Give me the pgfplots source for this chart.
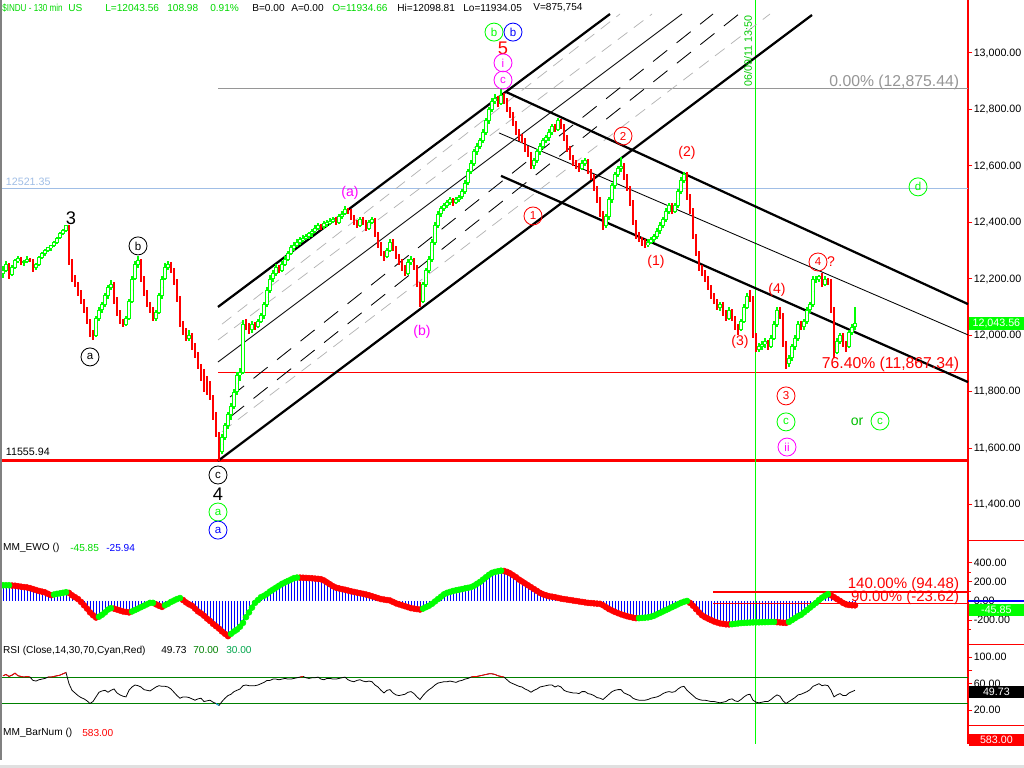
\documentclass[border=0pt]{standalone}
\usepackage{graphicx}
\usepackage{pgfplots}
\pgfplotsset{compat=1.18}
\usepackage{pgfplotstable}
\usepackage{fontspec}
\setmainfont{Liberation Sans}

\definecolor{lime}{RGB}{0,255,0}
\definecolor{mag}{RGB}{255,0,255}
\definecolor{dgreen}{RGB}{0,128,0}
\definecolor{lblue}{RGB}{160,190,230}
\definecolor{lgray}{RGB}{150,150,150}

\newcommand\tk{\fontsize{7.6}{8.5}\selectfont}
\newcommand\hd{\fontsize{7.2}{8}\selectfont}
\newcommand\lb{\fontsize{10}{11}\selectfont}
\newcommand\lv{\fontsize{11.2}{12}\selectfont}
\newcommand\lw{\fontsize{10.7}{11.5}\selectfont}
\newcommand\bg{\fontsize{13}{13}\selectfont}

% x = bar position in screen columns (3 per bar), o h l c = prices, e = EWO, r = RSI
\pgfplotstableread{
x o h l c e r
3 12220 12245 12205 12230 165 72
6 12230 12262 12225 12250 165 74
9 12250 12255 12200 12215 165 71
12 12215 12248 12210 12240 162 73
15 12240 12270 12235 12265 160 76
18 12265 12282 12258 12272 155 72
21 12272 12278 12250 12258 150 71
24 12258 12268 12245 12262 146 70
27 12262 12280 12255 12270 142 71
30 12270 12276 12260 12268 135 70
33 12268 12272 12225 12240 125 65
36 12240 12258 12232 12250 115 64
39 12250 12280 12246 12275 105 66
42 12275 12295 12270 12290 98 67
45 12290 12306 12282 12300 90 68
48 12300 12315 12294 12310 75 70
51 12310 12322 12300 12318 62 70
54 12318 12335 12312 12330 68 71
57 12330 12350 12325 12345 75 72
60 12345 12365 12340 12360 80 73
63 12360 12378 12355 12372 86 75
66 12372 12391 12366 12388 92 77
69 12388 12392 12250 12260 85 60
72 12260 12270 12190 12200 60 50
75 12200 12215 12170 12180 40 46
78 12180 12190 12140 12150 20 42
81 12150 12160 12110 12120 -10 39
84 12120 12130 12080 12090 -45 37
87 12090 12100 12040 12050 -80 34
90 12050 12060 11995 12010 -120 30
93 12010 12020 11985 12000 -150 33
96 12000 12070 11995 12060 -174 40
99 12060 12100 12050 12090 -165 47
102 12090 12118 12080 12110 -145 49
105 12110 12150 12100 12140 -120 50
108 12140 12180 12130 12170 -90 47
111 12170 12195 12160 12180 -75 50
114 12180 12190 12110 12120 -80 52
117 12120 12135 12070 12080 -90 46
120 12080 12090 12040 12050 -100 43
123 12050 12060 12030 12040 -110 41
126 12040 12070 12035 12060 -115 40
129 12060 12130 12055 12120 -120 50
132 12120 12210 12115 12200 -110 55
135 12200 12262 12195 12250 -95 58
138 12250 12283 12240 12265 -80 57
141 12265 12270 12190 12200 -65 55
144 12200 12210 12140 12150 -50 51
147 12150 12160 12100 12110 -35 50
150 12110 12120 12080 12090 -20 49
153 12090 12100 12050 12060 -20 52
156 12060 12090 12050 12080 -35 55
159 12080 12150 12075 12140 -50 57
162 12140 12210 12130 12200 -62 56
165 12200 12255 12195 12240 -45 56
168 12240 12262 12230 12250 -30 55
171 12250 12260 12220 12230 -10 52
174 12230 12240 12180 12190 5 47
177 12190 12200 12120 12130 20 42
180 12130 12140 12030 12040 31 38
183 12040 12050 12000 12010 10 40
186 12010 12025 11980 11990 -15 40
189 11990 12020 11980 12000 -35 39
192 12000 12010 11950 11960 -50 37
195 11960 11975 11920 11930 -80 35
198 11930 11940 11880 11890 -110 37
201 11890 11900 11840 11850 -130 38
204 11850 11880 11800 11840 -155 33
207 11840 11855 11790 11830 -185 34
210 11830 11840 11770 11780 -210 35
213 11780 11790 11700 11720 -240 32
216 11720 11730 11640 11650 -265 30
219 11650 11660 11556 11590 -290 27
222 11590 11650 11580 11640 -320 33
225 11640 11690 11630 11680 -345 38
228 11680 11730 11670 11720 -369 42
231 11720 11760 11700 11750 -345 44
234 11750 11810 11740 11800 -320 48
237 11800 11870 11790 11860 -300 50
240 11860 11885 11840 11870 -270 52
243 11870 12055 11865 12040 -230 57
246 12040 12060 12020 12030 -170 58
249 12030 12045 12005 12020 -120 57
252 12020 12050 12010 12040 -70 57
255 12040 12048 12020 12030 -20 57
258 12030 12060 12025 12050 10 58
261 12050 12080 12045 12070 40 60
264 12070 12120 12060 12110 55 62
267 12110 12170 12100 12160 75 65
270 12160 12215 12150 12200 100 65
273 12200 12232 12190 12220 120 67
276 12220 12252 12210 12240 140 67
279 12240 12248 12220 12230 160 66
282 12230 12262 12225 12250 180 67
285 12250 12282 12245 12270 195 68
288 12270 12300 12262 12290 210 67
291 12290 12320 12285 12310 225 67
294 12310 12330 12300 12320 240 68
297 12320 12340 12315 12330 246 69
300 12330 12350 12320 12340 245 70
303 12340 12356 12330 12345 244 71
306 12345 12360 12338 12350 242 69
309 12350 12368 12342 12360 240 68
312 12360 12378 12350 12370 238 69
315 12370 12390 12362 12380 235 69
318 12380 12398 12372 12390 232 70
321 12390 12396 12375 12385 228 67
324 12385 12405 12378 12395 215 66
327 12395 12410 12385 12400 195 68
330 12400 12415 12392 12405 175 68
333 12405 12420 12398 12410 155 67
336 12410 12418 12390 12400 140 67
339 12400 12430 12395 12420 132 68
342 12420 12440 12412 12430 125 69
345 12430 12460 12425 12445 118 70
348 12445 12452 12430 12440 110 66
351 12440 12446 12410 12420 102 64
354 12420 12428 12390 12400 95 63
357 12400 12408 12380 12390 88 65
360 12390 12420 12385 12410 82 66
363 12410 12418 12392 12400 75 64
366 12400 12408 12370 12380 68 63
369 12380 12410 12375 12400 60 64
372 12400 12420 12395 12410 50 63
375 12410 12415 12350 12360 40 58
378 12360 12368 12310 12320 30 55
381 12320 12330 12280 12290 20 50
384 12290 12300 12265 12280 15 46
387 12280 12310 12275 12300 10 50
390 12300 12340 12295 12330 5 51
393 12330 12340 12300 12310 -10 46
396 12310 12318 12270 12280 -25 43
399 12280 12290 12250 12260 -35 42
402 12260 12270 12230 12240 -45 43
405 12240 12250 12210 12220 -55 44
408 12220 12270 12215 12260 -65 47
411 12260 12280 12250 12270 -75 48
414 12270 12275 12230 12240 -80 45
417 12240 12250 12170 12180 -85 40
420 12180 12190 12100 12120 -90 36
423 12120 12190 12115 12180 -80 42
426 12180 12240 12170 12230 -65 47
429 12230 12280 12220 12270 -50 51
432 12270 12340 12260 12330 -30 54
435 12330 12400 12320 12390 -5 58
438 12390 12440 12380 12430 20 61
441 12430 12460 12420 12450 45 62
444 12450 12470 12440 12460 70 63
447 12460 12478 12450 12470 85 63
450 12470 12490 12462 12480 95 64
453 12480 12488 12460 12470 105 63
456 12470 12490 12465 12480 112 62
459 12480 12498 12472 12490 118 64
462 12490 12520 12484 12510 125 65
465 12510 12550 12502 12540 132 67
468 12540 12590 12532 12580 138 68
471 12580 12620 12570 12610 145 70
474 12610 12660 12600 12650 160 71
477 12650 12680 12640 12670 180 71
480 12670 12700 12660 12690 200 72
483 12690 12730 12680 12720 225 73
486 12720 12770 12710 12760 250 74
489 12760 12810 12750 12800 275 75
492 12800 12840 12790 12830 295 75
495 12830 12855 12820 12840 305 74
498 12840 12848 12810 12820 312 72
501 12820 12876 12815 12850 318 71
504 12850 12860 12820 12830 315 70
507 12830 12840 12790 12800 305 66
510 12800 12810 12770 12780 290 62
513 12780 12790 12740 12750 270 60
516 12750 12760 12710 12720 250 58
519 12720 12730 12690 12700 225 56
522 12700 12712 12680 12690 205 55
525 12690 12700 12650 12660 185 52
528 12660 12670 12630 12640 165 50
531 12640 12650 12590 12600 145 47
534 12600 12630 12590 12620 125 50
537 12620 12660 12610 12650 105 52
540 12650 12680 12640 12670 85 55
543 12670 12700 12660 12690 70 56
546 12690 12710 12680 12700 60 57
549 12700 12730 12690 12720 50 58
552 12720 12750 12710 12740 45 58
555 12740 12748 12720 12730 40 55
558 12730 12770 12725 12760 32 57
561 12760 12765 12730 12740 25 55
564 12740 12750 12690 12700 20 50
567 12700 12710 12650 12660 15 48
570 12660 12670 12620 12630 10 47
573 12630 12640 12600 12610 5 46
576 12610 12620 12590 12600 0 46
579 12600 12610 12580 12590 -5 45
582 12590 12620 12585 12610 -10 48
585 12610 12630 12600 12620 -15 48
588 12620 12625 12570 12580 -20 45
591 12580 12590 12550 12560 -22 44
594 12560 12570 12510 12520 -25 42
597 12520 12530 12470 12480 -28 39
600 12480 12490 12420 12430 -30 38
603 12430 12440 12375 12390 -45 36
606 12390 12430 12380 12420 -65 40
609 12420 12490 12410 12480 -85 44
612 12480 12540 12470 12530 -100 48
615 12530 12580 12520 12570 -115 50
618 12570 12600 12560 12590 -128 51
621 12590 12630 12580 12600 -140 51
624 12600 12610 12550 12560 -150 46
627 12560 12570 12510 12520 -160 44
630 12520 12530 12460 12470 -168 42
633 12470 12480 12390 12400 -175 38
636 12400 12410 12340 12350 -180 36
639 12350 12365 12330 12340 -180 35
642 12340 12350 12315 12330 -178 35
645 12330 12340 12310 12320 -175 35
648 12320 12340 12312 12330 -172 36
651 12330 12350 12322 12340 -165 38
654 12340 12358 12330 12350 -155 39
657 12350 12380 12342 12370 -140 40
660 12370 12400 12360 12390 -125 42
663 12390 12420 12380 12410 -110 45
666 12410 12450 12400 12440 -95 47
669 12440 12470 12430 12460 -80 48
672 12460 12468 12430 12440 -65 47
675 12440 12470 12432 12460 -50 48
678 12460 12520 12450 12510 -35 52
681 12510 12560 12500 12550 -20 55
684 12550 12580 12540 12570 -8 56
687 12570 12578 12480 12490 0 50
690 12490 12500 12430 12440 -20 46
693 12440 12450 12340 12350 -50 42
696 12350 12360 12280 12290 -85 38
699 12290 12300 12230 12240 -120 36
702 12240 12250 12210 12220 -150 35
705 12220 12230 12190 12200 -170 35
708 12200 12210 12160 12170 -185 34
711 12170 12180 12130 12140 -200 33
714 12140 12150 12110 12120 -215 33
717 12120 12130 12090 12100 -225 32
720 12100 12120 12085 12110 -235 31
723 12110 12120 12070 12080 -240 32
726 12080 12090 12050 12060 -245 33
729 12060 12100 12055 12090 -246 36
732 12090 12095 12050 12060 -244 37
735 12060 12070 12020 12030 -240 34
738 12030 12040 12000 12020 -236 33
741 12020 12060 12015 12050 -232 36
744 12050 12110 12045 12100 -230 40
747 12100 12150 12095 12140 -228 43
750 12140 12160 12120 12130 -226 44
753 12130 12140 11990 12000 -225 35
756 12000 12010 11940 11950 -224 32
759 11950 11975 11940 11960 -224 31
762 11960 11980 11950 11970 -223 32
765 11970 11990 11955 11980 -222 33
768 11980 11985 11950 11960 -221 33
771 11960 12000 11955 11990 -220 36
774 11990 12050 11985 12040 -220 40
777 12040 12100 12030 12090 -222 43
780 12090 12100 12060 12070 -225 41
783 12070 12080 11960 11970 -228 34
786 11970 11980 11880 11900 -230 30
789 11900 11930 11890 11920 -220 33
792 11920 11970 11910 11960 -200 36
795 11960 12000 11950 11990 -180 39
798 11990 12050 11980 12040 -160 43
801 12040 12050 12020 12030 -145 44
804 12030 12060 12020 12050 -120 46
807 12050 12100 12040 12090 -95 48
810 12090 12120 12080 12110 -70 51
813 12110 12210 12100 12200 -45 56
816 12200 12210 12185 12200 -20 58
819 12200 12215 12190 12210 10 60
822 12210 12220 12170 12180 35 57
825 12180 12210 12175 12200 55 58
828 12200 12205 12180 12190 72 57
831 12190 12200 12080 12090 60 50
834 12090 12100 11920 11940 40 40
837 11940 11990 11935 11980 20 43
840 11980 12010 11970 12000 0 45
843 12000 12010 11960 11970 -20 42
846 11970 11980 11940 11960 -35 42
849 11960 12020 11955 12010 -42 46
852 12010 12040 12000 12030 -45 48
855 12030 12099 12020 12044 -46 50
}\bars

% d = change of the EWO from the bar before (sets the dot colour)
\pgfplotstablecreatecol[
  create col/assign/.code={%
    \ifnum\pgfplotstablerow=0
      \def\entry{0}%
    \else
      \getthisrow{e}\cur
      \getprevrow{e}\prv
      \pgfmathsetmacro\entry{(\cur)-(\prv)}%
    \fi
    \pgfkeyslet{/pgfplots/table/create col/next content}\entry}]{d}\bars

\pgfplotsset{
  panel/.style={scale only axis, width=242mm, xmin=0, xmax=968,
    axis x line=none, axis y line*=right, clip=false,
    y axis line style={red, line width=0.8pt, -},
    ytick style={red, line width=0.7pt}, tick align=outside,
    major tick length=1.1mm, minor tick length=0.7mm,
    minor tick style={red, line width=0.7pt},
    scaled y ticks=false,
    yticklabel style={font=\tk, black, xshift=-0.9mm,
      /pgf/number format/.cd, fixed, fixed zerofill, precision=2,
      1000 sep={,}, assume math mode=true}},
  ebar/.style={only marks, mark=*, mark size=0pt, mark options={draw=none, fill=none}, forget plot,
    error bars/y dir=both, error bars/y explicit, error bars/error mark=none,
    error bars/error bar style={#1}},
  up/.style={restrict expr to domain={\thisrow{c}-\thisrow{o}}{0:100000}},
  dn/.style={restrict expr to domain={\thisrow{c}-\thisrow{o}}{-100000:-0.001}},
  chan/.style={black, line width=1.6pt, forget plot},
  thin/.style={black, line width=0.6pt, forget plot},
  bdash/.style={black, line width=0.6pt, dash pattern=on 4.5mm off 3mm, forget plot},
  gdash/.style={black!30, line width=0.5pt, dash pattern=on 3mm off 2mm, forget plot},
}
\tikzset{
  circ/.style={circle, draw=#1, text=#1, line width=0.6pt, minimum size=4.5mm,
    inner sep=0pt, font=\fontsize{8.2}{9}\selectfont},
  hdr/.style={font=\hd, anchor=west, inner sep=0pt},
}

\begin{document}
\begin{tikzpicture}
\useasboundingbox[fill=white] (0,0) rectangle (256mm,192mm);

% ---------------- price panel ----------------
\begin{axis}[panel, at={(0mm,57.5mm)}, anchor=south west, height=134.5mm,
  ymin=11283, ymax=13187.6, ytick={11400,11600,...,13000}]

% horizontal levels
\addplot[lblue, line width=0.7pt, forget plot] coordinates {(0,12521.35) (968,12521.35)};
\addplot[lgray, line width=0.7pt, forget plot] coordinates {(218,12875.44) (968,12875.44)};
\addplot[red, line width=0.7pt, forget plot] coordinates {(218,11867.34) (968,11867.34)};
\addplot[red, line width=2.2pt, forget plot] coordinates {(0,11555.94) (968,11555.94)};
\addplot[lime, line width=0.7pt, forget plot] coordinates {(755,11283) (755,13187.6)};

% rising channel and its inner lines
\addplot[gdash] coordinates {(218,11984) (652,13138)};
\addplot[thin]  coordinates {(218,11906) (682,13138)};
\addplot[bdash] coordinates {(230,11782) (713,13138)};
\addplot[bdash] coordinates {(230,11711) (739,13138)};
\addplot[gdash] coordinates {(222,11659) (770,13138)};
\addplot[gdash] coordinates {(222,12040) (620,13138)};
\addplot[chan] coordinates {(218,12101) (610,13138)};
\addplot[chan] coordinates {(218,11556) (812,13134.5)};
% falling channel
\addplot[chan] coordinates {(506,12862) (968,12111)};
\addplot[thin] coordinates {(499,12717) (968,12002)};
\addplot[chan] coordinates {(501,12565) (968,11835)};

% candles
\addplot[ebar={red, line width=0.75pt}, dn] table[x=x, y expr={(\thisrow{h}+\thisrow{l})/2}, y error expr={(\thisrow{h}-\thisrow{l})/2}]{\bars};
\addplot[ebar={lime, line width=0.75pt}, up] table[x=x, y expr={(\thisrow{h}+\thisrow{l})/2}, y error expr={(\thisrow{h}-\thisrow{l})/2}]{\bars};
\addplot[ebar={red, line width=2pt}, dn] table[x=x, y expr={(\thisrow{o}+\thisrow{c})/2}, y error expr={(\thisrow{o}-\thisrow{c})/2}]{\bars};
\addplot[ebar={lime, line width=2.2pt}, up] table[x=x, y expr={(\thisrow{o}+\thisrow{c})/2}, y error expr={(\thisrow{c}-\thisrow{o})/2+1.5}]{\bars};
\addplot[ebar={white, line width=0.8pt}, up] table[x=x, y expr={(\thisrow{o}+\thisrow{c})/2}, y error expr={max((\thisrow{c}-\thisrow{o})/2-2,0)}]{\bars};

% wave labels
\node[font=\bg] at (axis cs:71,12416) {3};
\node[circ=black] at (axis cs:90,11924) {a};
\node[circ=black] at (axis cs:138,12317) {b};
\node[text=mag, font=\lb] at (axis cs:350,12505) {(a)};
\node[text=mag, font=\lb] at (axis cs:422,12012) {(b)};
\node[circ=black] at (axis cs:218,11506) {c};
\node[font=\bg] at (axis cs:218,11439) {4};
\node[circ=lime] at (axis cs:218,11375) {a};
\node[circ=blue] at (axis cs:218,11311) {a};
\node[circ=lime] at (axis cs:494,13074) {b};
\node[circ=blue] at (axis cs:513,13074) {b};
\node[text=red, font=\bg] at (axis cs:503,13018) {5};
\node[circ=mag] at (axis cs:503,12965) {i};
\node[circ=mag] at (axis cs:503,12904) {c};
\node[circ=red] at (axis cs:533,12423) {1};
\node[circ=red] at (axis cs:623,12706) {2};
\node[text=red, font=\lb] at (axis cs:656,12260) {(1)};
\node[text=red, font=\lb] at (axis cs:687,12646) {(2)};
\node[text=red, font=\lb] at (axis cs:740,11977) {(3)};
\node[text=red, font=\lb] at (axis cs:777,12161) {(4)};
\node[circ=red] at (axis cs:818,12260) {4};
\node[text=red, font=\lb] at (axis cs:831,12260) {?};
\node[circ=red] at (axis cs:786,11786) {3};
\node[circ=lime] at (axis cs:786,11694) {c};
\node[circ=mag] at (axis cs:787,11605) {ii};
\node[text=lime!75!black, font=\lb] at (axis cs:857,11694) {or};
\node[circ=lime] at (axis cs:880,11697) {c};
\node[circ=lime] at (axis cs:918,12526) {d};

% level texts
\node[text=lgray, font=\lv, anchor=east] at (axis cs:964,12897) {0.00\% (12,875.44)};
\node[text=red, font=\lv, anchor=east] at (axis cs:964,11899) {76.40\% (11,867.34)};
\node[text=lblue, font=\tk, anchor=west] at (axis cs:1,12543) {12521.35};
\node[font=\tk, anchor=west] at (axis cs:1,11588) {11555.94};
\node[text=lime!80!black, font=\tk, rotate=90] at (axis cs:748,13007) {06/09/11 13:50};

% header
\node[hdr, text=lime!85!black] at (axis cs:2,13160) {\scalebox{0.8}[1]{\$INDU - 130 min}};
\node[hdr, text=lime!85!black] at (axis cs:68,13160) {US};
\node[hdr, text=lime!85!black] at (axis cs:105,13160) {L=12043.56};
\node[hdr, text=lime!85!black] at (axis cs:167,13160) {108.98};
\node[hdr, text=lime!85!black] at (axis cs:210,13160) {0.91\%};
\node[hdr] at (axis cs:252,13160) {B=0.00};
\node[hdr] at (axis cs:291,13160) {A=0.00};
\node[hdr, text=lime!85!black] at (axis cs:332,13160) {O=11934.66};
\node[hdr] at (axis cs:397,13160) {Hi=12098.81};
\node[hdr] at (axis cs:463,13160) {Lo=11934.05};
\node[hdr] at (axis cs:533,13160) {V=875,754};

% last price box
\node[fill=lime, text=white, font=\tk, anchor=west, inner sep=1pt, minimum width=13.8mm, minimum height=3.2mm] at (axis cs:968.5,12043.56) {12,043.56};
\end{axis}

% ---------------- EWO panel ----------------
\begin{axis}[panel, at={(0mm,31.25mm)}, anchor=south west, height=26.25mm,
  ymin=-441, ymax=661, ytick={-200,0,200,400}, minor ytick={-300,-100,100,300}]
\addplot[lime, line width=0.7pt, forget plot] coordinates {(755,-441) (755,661)};
\addplot[blue, ycomb, line width=0.55pt, forget plot] table[x=x, y=e]{\bars};
\addplot[red, line width=0.8pt, forget plot] coordinates {(713,94.48) (968,94.48)};
\addplot[red, line width=0.8pt, forget plot] coordinates {(713,-23.62) (968,-23.62)};
\addplot[only marks, mark=*, mark size=2.1pt, red, forget plot,
  restrict expr to domain={\thisrow{d}}{-100000:-0.001}] table[x=x, y=e]{\bars};
\addplot[only marks, mark=*, mark size=2.1pt, lime, forget plot,
  restrict expr to domain={\thisrow{d}}{0:100000}] table[x=x, y=e]{\bars};
\node[text=red, font=\lw, anchor=east] at (axis cs:964,168) {140.00\% (94.48)};
\node[text=red, font=\lw, anchor=east] at (axis cs:964,31) {90.00\% (-23.62)};
\node[hdr] at (rel axis cs:0.003,0.905) {MM\_EWO ()};
\node[hdr, text=lime!85!black] at (axis cs:70,556) {-45.85};
\node[hdr, text=blue] at (axis cs:106,556) {-25.94};
\draw[blue, line width=1pt] (axis cs:968,0) -- (axis cs:1024,0);
\node[fill=lime, text=white, font=\tk, anchor=west, inner sep=1pt, minimum width=13.8mm, minimum height=3.1mm] at (axis cs:968.5,-95) {-45.85\hfill};
\end{axis}

% ---------------- RSI panel ----------------
\begin{axis}[panel, at={(0mm,10.75mm)}, anchor=south west, height=20.5mm,
  ymin=-2.6, ymax=121.7, ytick={20,60,100}, extra y ticks={40,80},
  extra y tick labels={}]
\addplot[lime, line width=0.7pt, forget plot] coordinates {(755,-2.6) (755,121.7)};
\addplot[dgreen, line width=0.8pt, forget plot] coordinates {(0,70) (968,70)};
\addplot[dgreen, line width=0.8pt, forget plot] coordinates {(0,30) (968,30)};
\addplot[black, line width=0.55pt, forget plot] table[x=x, y=r]{\bars};
\addplot[red, line width=0.55pt, forget plot, restrict y to domain=70:200, unbounded coords=jump] table[x=x, y=r]{\bars};
\addplot[cyan, line width=0.55pt, forget plot, restrict y to domain=-10:30, unbounded coords=jump] table[x=x, y=r]{\bars};
\node[hdr] at (rel axis cs:0.003,0.9) {RSI (Close,14,30,70,Cyan,Red)};
\node[hdr] at (axis cs:161,110.6) {49.73};
\node[hdr, text=dgreen] at (axis cs:193,110.6) {70.00};
\node[hdr, text=dgreen!70!cyan] at (axis cs:226,110.6) {30.00};
\node[fill=black, text=white, font=\tk, anchor=west, inner sep=1pt, minimum width=13.8mm, minimum height=3mm] at (axis cs:968.5,48) {49.73\hfill};
\end{axis}

% ---------------- bar number panel and date axis ----------------
\begin{axis}[panel, at={(0mm,6mm)}, anchor=south west, height=4.75mm,
  ymin=0, ymax=1, ytick=\empty, axis x line*=bottom,
  x axis line style={red, line width=0.8pt, -}, xtick style={red, line width=0.7pt},
  xtick={14,41,68,113,140,167,194,221,248,275,320,347,374,401,428,455,500,527,554,581,608,635,662,689,716,743,770,797,824,851,886,913,940},
  xticklabels={2/11,2/16,2/22,Mar,3/4,3/9,3/14,3/17,3/22,3/25,Apr,4/6,4/11,4/14,4/19,4/25,May,5/5,5/10,5/13,5/18,5/23,5/26,Jun,6/6,6/9,6/14,6/17,6/22,6/27,Jul,7/6,7/11},
  xticklabel style={font=\tk, yshift=0.4mm}]
\addplot[lime, line width=0.7pt, forget plot] coordinates {(755,0) (755,1)};
\node[hdr] at (rel axis cs:0.003,0.58) {MM\_BarNum ()};
\node[hdr, text=red] at (axis cs:82,0.58) {583.00};
\node[fill=red, text=white, font=\tk, anchor=west, inner sep=1pt, minimum width=13.8mm, minimum height=3.1mm] at (axis cs:968.5,0.21) {583.00\hfill};
\end{axis}

% frame details around the panels
\draw[red, line width=0.7pt] (242mm,57mm) -- (256mm,57mm);
\draw[red, line width=0.7pt] (242mm,31mm) -- (256mm,31mm);
\draw[red, line width=0.7pt] (242mm,10.75mm) -- (256mm,10.75mm);
\fill[gray] (0,2mm) rectangle (0.45mm,192mm);
\fill[black!12] (0,0) rectangle (256mm,0.8mm);
\end{tikzpicture}
\end{document}
